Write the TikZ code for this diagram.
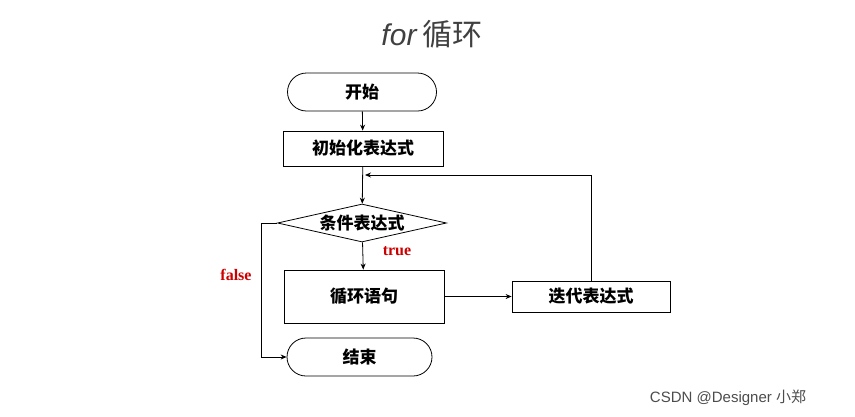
\documentclass[tikz,border=0pt]{standalone}
\usepackage{fontspec}
\setmainfont{Liberation Serif}
\newfontfamily\cjk{Noto Sans CJK SC}
\usetikzlibrary{shapes.geometric,arrows.meta}
\tikzset{
 box/.style={draw,thick,minimum height=#1,inner sep=0pt,font=\cjk\bfseries\fontsize{17}{19}\selectfont},
 box/.default=35pt,
 term/.style={draw,thick,rounded corners=19pt,minimum height=38pt,inner sep=0pt,font=\cjk\bfseries\fontsize{17}{19}\selectfont},
 arr/.style={-{Stealth[length=6pt,width=5pt]},line width=0.8pt},
 lbl/.style={text=red!80!black,font=\bfseries\fontsize{16}{18}\selectfont}
}
\begin{document}
\begin{tikzpicture}[x=1pt,y=-1pt]
\useasboundingbox (0,0) rectangle (855,416);
\node at (432,34) {\fontsize{30}{34}\selectfont\color{black!75}\textit{\fontspec{Liberation Sans}for}\,\cjk 循环};
\node[term,minimum width=149pt] (start) at (362,92) {开始};
\node[box,minimum width=160pt] (init) at (363,148.5) {初始化表达式};
\node[draw,thick,diamond,aspect=4.4,minimum width=169pt,minimum height=38pt,inner sep=0pt,font=\cjk\bfseries\fontsize{17}{19}\selectfont] (cond) at (362,223) {条件表达式};
\node[box=53pt,minimum width=160pt] (body) at (364,296.5) {循环语句};
\node[box=31pt,minimum width=158pt] (iter) at (591,296.5) {迭代表达式};
\node[term,minimum width=145pt] (end) at (359.5,357) {结束};
\coordinate (fb) at (365,175);
\draw[arr] (start) -- (init);
\draw[arr] (init) -- (cond);
\draw[arr] (cond) -- (body);
\node[lbl] at (397,251) {true};
\draw[arr] (body) -- (iter);
\draw[arr] (iter.north) |- (fb);
\draw[arr] (cond.west) -- ++(-16,0) |- (end.west);
\node[lbl] at (236,275) {false};
\node[text=black!70,font=\fontspec{Liberation Sans}\fontsize{15}{17}\selectfont] at (728,398) {CSDN @Designer {\cjk 小郑}};
\end{tikzpicture}
\end{document}
